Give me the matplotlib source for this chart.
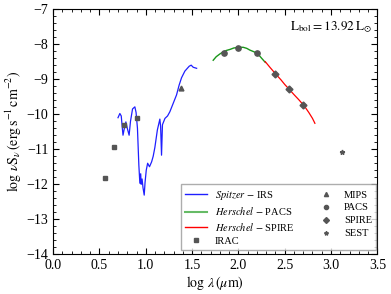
import numpy as np
import matplotlib
matplotlib.use('Agg')
import matplotlib.pyplot as plt
from matplotlib.lines import Line2D
from matplotlib.ticker import MultipleLocator

plt.rcParams['font.family'] = ['Liberation Serif', 'DejaVu Serif']
plt.rcParams['mathtext.fontset'] = 'stix'

# Spitzer IRS spectrum (log lambda, log nuSnu)
irs_x = [0.700, 0.720, 0.735, 0.745, 0.754, 0.765, 0.785, 0.800, 0.820, 0.835,
         0.857, 0.882, 0.895, 0.910, 0.925, 0.936, 0.945, 0.950, 0.960, 0.970,
         0.983, 0.992, 1.005, 1.020, 1.040, 1.063, 1.080, 1.098, 1.125, 1.152,
         1.160, 1.170, 1.180, 1.207, 1.235, 1.260, 1.296, 1.332, 1.360, 1.386,
         1.422, 1.469, 1.490, 1.512, 1.549]
irs_y = [-10.10, -9.98, -10.05, -10.35, -10.60, -10.45, -10.22, -10.40, -10.60, -10.20,
         -9.85, -9.79, -9.95, -10.40, -11.45, -11.97, -11.70, -12.00, -11.85, -12.10,
         -12.31, -11.95, -11.60, -11.40, -11.50, -11.36, -11.20, -10.95, -10.45, -10.14,
         -10.35, -11.17, -10.30, -10.12, -10.05, -9.93, -9.69, -9.45, -9.17, -8.96,
         -8.77, -8.63, -8.60, -8.66, -8.69]

# Herschel PACS spectrum
pacs_x = [1.728, 1.760, 1.800, 1.836, 1.870, 1.910, 1.950, 2.000, 2.052, 2.090,
          2.124, 2.170, 2.214, 2.250, 2.290]
pacs_y = [-8.46, -8.36, -8.28, -8.22, -8.18, -8.15, -8.11, -8.09, -8.09, -8.12,
          -8.17, -8.22, -8.29, -8.40, -8.52]

# Herschel SPIRE spectrum
spire_x = [2.290, 2.340, 2.405, 2.460, 2.500, 2.549, 2.600, 2.650, 2.710, 2.760, 2.800, 2.826]
spire_y = [-8.50, -8.66, -8.86, -9.02, -9.15, -9.29, -9.44, -9.58, -9.76, -9.95, -10.12, -10.26]

# photometry
irac_x = [0.556, 0.653, 0.763, 0.903]
irac_y = [-11.81, -10.93, -10.31, -10.11]
mips_x = [1.380]
mips_y = [-9.245]
pacsp_x = [1.845, 2.000, 2.204]
pacsp_y = [-8.24, -8.10, -8.26]
spirep_x = [2.398, 2.544, 2.699]
spirep_y = [-8.855, -9.29, -9.74]
sest_x = [3.114]
sest_y = [-11.07]

GRAY = '#555555'

fig = plt.figure(figsize=(3.91, 2.94), dpi=100)
ax = fig.add_axes([0.136, 0.135, 0.829, 0.834])

ax.plot(irs_x, irs_y, color='#1f1fff', lw=0.9)
ax.plot(pacs_x, pacs_y, color='#1a961a', lw=1.0)
ax.plot(spire_x, spire_y, color='red', lw=0.9)

ax.plot(irac_x, irac_y, 's', color=GRAY, ms=3.5, mec=GRAY)
ax.plot(mips_x, mips_y, '^', color=GRAY, ms=3.5, mec=GRAY)
ax.plot(pacsp_x, pacsp_y, 'o', color=GRAY, ms=3.8, mec=GRAY)
ax.plot(spirep_x, spirep_y, 'D', color=GRAY, ms=3.5, mec=GRAY)
ax.plot(sest_x, sest_y, '*', color=GRAY, ms=3.5, mec=GRAY)

ax.set_xlim(0, 3.5)
ax.set_ylim(-14, -7)
ax.xaxis.set_major_locator(MultipleLocator(0.5))
ax.xaxis.set_minor_locator(MultipleLocator(0.1))
ax.yaxis.set_major_locator(MultipleLocator(1))
ax.yaxis.set_minor_locator(MultipleLocator(0.2))
ax.xaxis.set_major_formatter(plt.FormatStrFormatter('%.1f'))
ax.tick_params(which='both', direction='in', top=True, right=True, labelsize=10)
ax.tick_params(which='major', length=4)
ax.tick_params(which='minor', length=2)

ax.set_xlabel(r'$\log\,\lambda\,(\mu\mathrm{m})$', fontsize=10, labelpad=1)
ax.set_ylabel(r'$\log\,\nu\mathrm{S}_\nu\,(\mathrm{erg\,s^{-1}\,cm^{-2}})$', fontsize=10, labelpad=2)

ax.text(0.985, 0.925, r'$\mathrm{L_{bol}=13.92\,L_{\odot}}$', transform=ax.transAxes,
        ha='right', va='center', fontsize=9.5)

handles = [
    Line2D([], [], color='#1f1fff', lw=1.0),
    Line2D([], [], color='#66bb66', lw=1.5),
    Line2D([], [], color='red', lw=1.0),
    Line2D([], [], ls='none', marker='s', color=GRAY, ms=3),
    Line2D([], [], ls='none', marker='^', color=GRAY, ms=3),
    Line2D([], [], ls='none', marker='o', color=GRAY, ms=3),
    Line2D([], [], ls='none', marker='D', color=GRAY, ms=3),
    Line2D([], [], ls='none', marker='*', color=GRAY, ms=3),
]
labels = [r'$\it{Spitzer}$ $-$ IRS', r'$\it{Herschel}$ $-$ PACS', r'$\it{Herschel}$ $-$ SPIRE', 'IRAC',
          'MIPS', 'PACS', 'SPIRE', 'SEST']
leg = ax.legend(handles, labels, loc='lower right', bbox_to_anchor=(0.997, 0.018),
                ncol=2, fontsize=7.5, frameon=True,
                fancybox=False, edgecolor='#999999', borderaxespad=0.0,
                handlelength=2.1, columnspacing=2.0, labelspacing=0.35,
                handletextpad=0.7)

fig.savefig('out.png', dpi=100)
